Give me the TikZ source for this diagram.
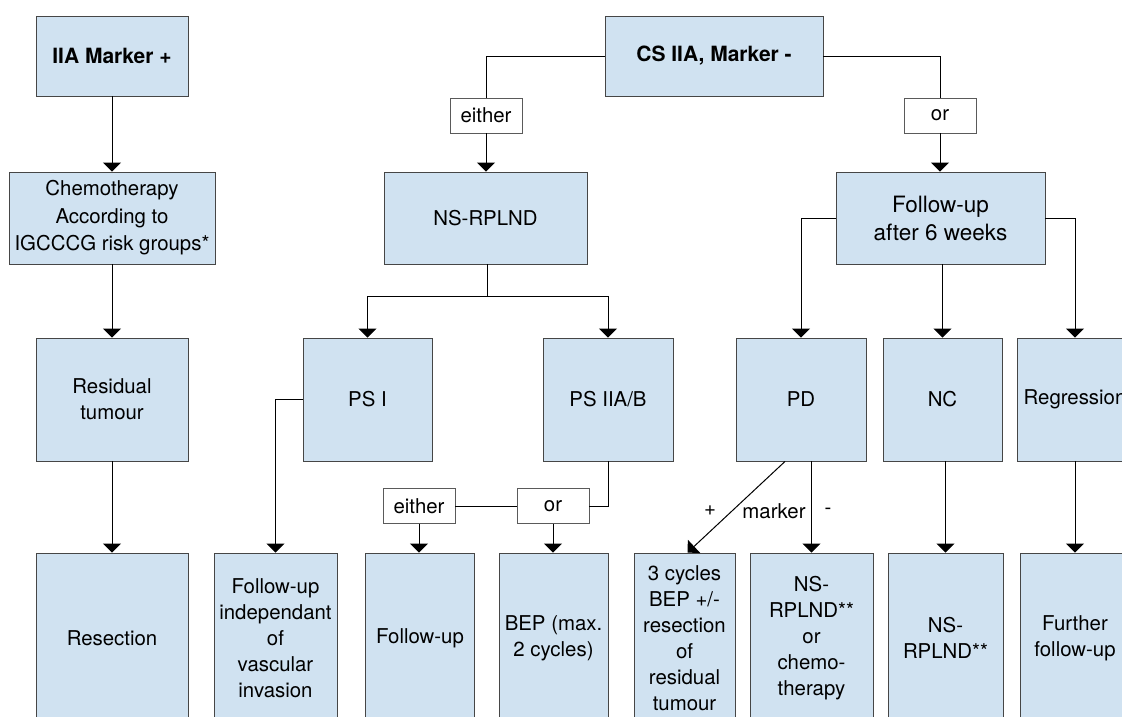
\documentclass[tikz,border=0pt]{standalone}
\usepackage{fontspec}
\setmainfont{TeX Gyre Heros}
\usetikzlibrary{arrows.meta,calc}
\definecolor{boxfill}{RGB}{208,226,241}
\definecolor{boxdraw}{RGB}{70,70,70}
\definecolor{lbldraw}{RGB}{90,90,90}
\tikzset{
  box/.style={draw=boxdraw, fill=boxfill, line width=0.9pt, inner sep=0pt, align=center,
    font=\fontsize{20.4}{26}\selectfont},
  lbl/.style={draw=lbldraw, fill=white, line width=0.9pt, inner sep=0pt, align=center,
    minimum width=72pt, minimum height=35pt, font=\fontsize{20.4}{26}\selectfont},
  txt/.style={inner sep=0pt, font=\fontsize{20.4}{26}\selectfont},
  conn/.style={draw=black, line width=1pt},
  arr/.style={conn, -{Triangle[width=18pt,length=9pt]}},
}
\begin{document}
\begin{tikzpicture}[x=1pt,y=-1pt]
\useasboundingbox (0,0) rectangle (1122,716);
\clip (0,0) rectangle (1122,716);
% row 0
\node[box, minimum width=152pt, minimum height=80pt, font=\fontsize{21}{26}\selectfont\bfseries] (m1) at (112,56) {IIA Marker +};
\node[box, minimum width=218pt, minimum height=80pt, font=\fontsize{21}{26}\selectfont\bfseries] (cs) at (714,56) {CS IIA, Marker -};
% labels
\node[lbl] (either1) at (486,115.5) {either};
\node[lbl] (or1) at (940,115.5) {or};
% row 1
\node[box, minimum width=206pt, minimum height=92pt, font=\fontsize{20.4}{27.5}\selectfont] (chemo) at (112,218) {Chemotherapy\\According to\\IGCCCG risk groups*};
\node[box, minimum width=203pt, minimum height=92pt] (ns) at (485.5,218) {NS-RPLND};
\node[box, minimum width=209pt, minimum height=92pt, font=\fontsize{22.5}{28}\selectfont] (fu6) at (940.5,218) {Follow-up\\after 6 weeks};
% row 2
\node[box, minimum width=152pt, minimum height=123pt] (res) at (112,399.5) {Residual\\tumour};
\node[box, minimum width=129pt, minimum height=123pt] (ps1) at (367.5,399.5) {PS I};
\node[box, minimum width=130pt, minimum height=123pt] (ps2) at (608,399.5) {PS IIA/B};
\node[box, minimum width=130pt, minimum height=123pt] (pd) at (801,399.5) {PD};
\node[box, minimum width=119pt, minimum height=123pt] (nc) at (942.5,399.5) {NC};
\node[box, minimum width=116pt, minimum height=123pt] (reg) at (1075,399.5) {Regression};
% labels row 2.5
\node[lbl] (either2) at (419,506) {either};
\node[lbl] (or2) at (553,506) {or};
% row 3
\node[box, minimum width=152pt, minimum height=170pt] (resec) at (112,638) {Resection};
\node[box, minimum width=123pt, minimum height=170pt] (indep) at (275.5,638) {Follow-up\\independant\\of\\vascular\\invasion};
\node[box, minimum width=109pt, minimum height=170pt] (fu) at (420,638) {Follow-up};
\node[box, minimum width=109pt, minimum height=170pt] (bep) at (553.5,638) {BEP (max.\\2 cycles)};
\node[box, minimum width=101pt, minimum height=170pt] (c3) at (684.5,638) {3 cycles\\BEP +/-\\resection\\of\\residual\\tumour};
\node[box, minimum width=123pt, minimum height=170pt] (nsch) at (811.5,638) {NS-\\RPLND**\\or\\chemo-\\therapy};
\node[box, minimum width=115pt, minimum height=170pt] (nsr) at (945.5,638) {NS-\\RPLND**};
\node[box, minimum width=110pt, minimum height=170pt] (fur) at (1075,638) {Further\\follow-up};
% connectors
\draw[arr] (m1.south) -- (chemo.north);
\draw[conn] (cs.west) -| (either1.north);
\draw[arr] (either1.south) -- (either1.south |- ns.north);
\draw[conn] (cs.east) -| (or1.north);
\draw[arr] (or1.south) -- (or1.south |- fu6.north);
\draw[arr] (chemo.south) -- (res.north);
\draw[arr] (res.south) -- (resec.north);
\coordinate (j1) at (487,296);
\draw[conn] (ns.south -| j1) -- (j1);
\draw[arr] (j1) -| (ps1.north);
\draw[arr] (j1) -| (ps2.north);
\draw[arr] (ps1.west) -| (indep.north);
\draw[conn] (ps2.south) |- (or2.east);
\draw[conn] (or2.west) -- (either2.east);
\draw[arr] (either2.south) -- (either2.south |- fu.north);
\draw[arr] (or2.south) -- (or2.south |- bep.north);
\draw[arr] (fu6.west) -| (pd.north);
\draw[arr] (fu6.east) -| (reg.north);
\draw[arr] (nc.north |- fu6.south) -- (nc.north);
\draw[arr] ($(pd.south)+(-16,0)$) -- ($(c3.north)+(3,0)$);
\draw[arr] (nsch.north |- pd.south) -- (nsch.north);
\draw[arr] (nsr.north |- nc.south) -- (nsr.north);
\draw[arr] (reg.south) -- (fur.north);
\node[txt] (plus) at (710,511) {+};
\node[txt] (mk) at (774,511) {marker};
\node[txt] (minus) at (828,511) {-};
\end{tikzpicture}
\end{document}
